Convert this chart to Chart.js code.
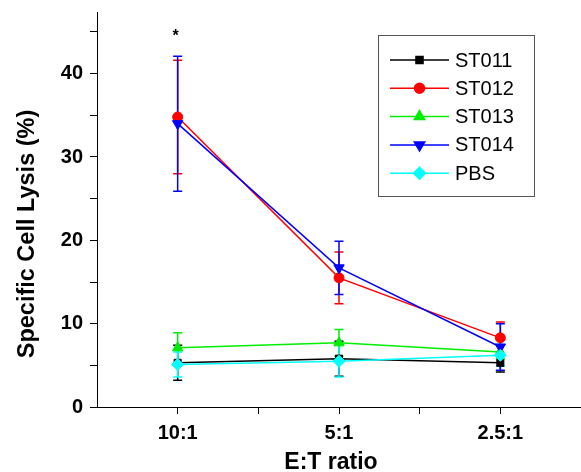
<!DOCTYPE html>
<html>
<head>
<meta charset="utf-8">
<script src="https://cdn.jsdelivr.net/npm/chart.js@4.4.1/dist/chart.umd.min.js"></script>
<style>
  html, body { margin: 0; padding: 0; background: #fff; }
</style>
</head>
<body>
<canvas id="c" width="581" height="472"></canvas>
<script>
// === Data ===
const ratios = ['10:1', '5:1', '2.5:1'];
const seriesNames = ['ST011', 'ST012', 'ST013', 'ST014', 'PBS'];
const st011 = [5.3, 5.8, 5.3];
const st011Err = [2.1, 2.1, 1.1];
const st012 = [34.8, 15.5, 8.3];
const st012Err = [6.8, 3.1, 1.9];
const st013 = [7.1, 7.7, 6.6];
const st013Err = [1.8, 1.6, 0.8];
const st014 = [34.0, 16.7, 7.2];
const st014Err = [8.1, 3.2, 2.8];
const pbs = [5.1, 5.5, 6.2];
const pbsErr = [1.5, 1.9, 1.3];
const yTicks = [0, 10, 20, 30, 40];
const starMark = { at: 0, value: 44.7, text: '*' };
const xTitle = 'E:T ratio';
const yTitle = 'Specific Cell Lysis (%)';

const colors = ['#000000', '#ff0000', '#00ee00', '#0000ff', '#00ffff'];
const styles = [
    { pointStyle: 'rect', rotation: 0, radius: 5 },
    { pointStyle: 'circle', rotation: 0, radius: 5 },
    { pointStyle: 'triangle', rotation: 0, radius: 6 },
    { pointStyle: 'triangle', rotation: 180, radius: 6 },
    { pointStyle: 'rectRot', rotation: 0, radius: 6 }
];
const values = [st011, st012, st013, st014, pbs];
const errors = [st011Err, st012Err, st013Err, st014Err, pbsErr];

const FONT = '"Liberation Sans", Arial, sans-serif';

// later series drawn on top, like the original plot
const datasets = seriesNames.map((name, i) => ({
    label: name,
    data: values[i].map((v, j) => ({ x: j + 1, y: v })),
    order: seriesNames.length - i,
    borderColor: colors[i],
    backgroundColor: colors[i],
    borderWidth: 1.5,
    pointStyle: styles[i].pointStyle,
    pointRotation: styles[i].rotation,
    pointRadius: styles[i].radius,
    pointBorderWidth: 1,
    tension: 0
}));

// error bars with caps
const errorBars = {
    id: 'errorBars',
    beforeDatasetsDraw(chart) {
        const ctx = chart.ctx, ys = chart.scales.y;
        chart.data.datasets.forEach((ds, i) => {
            const meta = chart.getDatasetMeta(i);
            ctx.save();
            ctx.strokeStyle = colors[i];
            ctx.lineWidth = 1.5;
            meta.data.forEach((pt, j) => {
                const v = values[i][j], e = errors[i][j];
                const top = ys.getPixelForValue(v + e), bot = ys.getPixelForValue(v - e);
                ctx.beginPath();
                ctx.moveTo(pt.x, top); ctx.lineTo(pt.x, bot);
                ctx.moveTo(pt.x - 4.5, top); ctx.lineTo(pt.x + 4.5, top);
                ctx.moveTo(pt.x - 4.5, bot); ctx.lineTo(pt.x + 4.5, bot);
                ctx.stroke();
            });
            ctx.restore();
        });
    }
};

// boxed legend, axis titles, significance star
const extras = {
    id: 'extras',
    afterDraw(chart) {
        const ctx = chart.ctx;
        const xs = chart.scales.x, ys = chart.scales.y;
        ctx.save();
        ctx.strokeStyle = '#555';
        ctx.lineWidth = 1;
        ctx.strokeRect(378.5, 35.5, 156, 161);
        ctx.font = '20px ' + FONT;
        ctx.textBaseline = 'middle';
        seriesNames.forEach((name, i) => {
            const y = 60 + i * 28.3;
            ctx.strokeStyle = colors[i];
            ctx.lineWidth = 1.5;
            ctx.beginPath(); ctx.moveTo(390, y); ctx.lineTo(449, y); ctx.stroke();
            ctx.fillStyle = colors[i];
            Chart.helpers.drawPoint(ctx, { pointStyle: styles[i].pointStyle, rotation: styles[i].rotation, radius: styles[i].radius, borderWidth: 1 }, 419.5, y);
            ctx.fillStyle = '#000';
            ctx.fillText(name, 455, y + 1);
        });
        // star
        ctx.font = 'bold 16px ' + FONT;
        ctx.textAlign = 'center';
        ctx.fillText(starMark.text, xs.getPixelForValue(starMark.at + 1) - 2, ys.getPixelForValue(starMark.value) + 2);
        // axis titles
        ctx.font = 'bold 23px ' + FONT;
        ctx.textBaseline = 'alphabetic';
        ctx.fillText(xTitle, 331, 469);
        ctx.translate(34, 234);
        ctx.rotate(-Math.PI / 2);
        ctx.font = 'bold 23.5px ' + FONT;
        ctx.fillText(yTitle, 0, 0);
        ctx.restore();
    }
};

new Chart(document.getElementById('c').getContext('2d'), {
    type: 'line',
    data: { datasets },
    plugins: [errorBars, extras],
    options: {
        responsive: false,
        animation: false,
        devicePixelRatio: 1,
        layout: { autoPadding: false, padding: { top: 12, right: 0, left: 0, bottom: 0 } },
        plugins: { legend: { display: false }, tooltip: { enabled: false } },
        scales: {
            x: {
                type: 'linear', min: 0.5, max: 3.5,
                afterBuildTicks: s => { s.ticks = [1, 1.5, 2, 2.5, 3].map(v => ({ value: v })); },
                afterFit: s => { s.height = 65; s.paddingLeft = 0; s.paddingRight = 0; },
                ticks: {
                    autoSkip: false, maxRotation: 0, padding: 7, color: '#000',
                    font: { family: FONT, size: 20, weight: 'bold' },
                    callback: v => Number.isInteger(v) ? ratios[v - 1] : ''
                },
                grid: { drawOnChartArea: false, tickLength: 7, color: '#000' },
                border: { color: '#000', width: 1 }
            },
            y: {
                min: 0, max: 47.4,
                afterBuildTicks: s => { s.ticks = [0, 5, 10, 15, 20, 25, 30, 35, 40, 45].map(v => ({ value: v })); },
                afterFit: s => { s.width = 97; s.paddingTop = 0; s.paddingBottom = 0; },
                ticks: {
                    padding: 7, color: '#000',
                    font: { family: FONT, size: 20, weight: 'bold' },
                    callback: v => yTicks.includes(v) ? String(v) : ''
                },
                grid: { drawOnChartArea: false, tickLength: 7, color: '#000' },
                border: { color: '#000', width: 1 }
            }
        }
    }
});
</script>
</body>
</html>
